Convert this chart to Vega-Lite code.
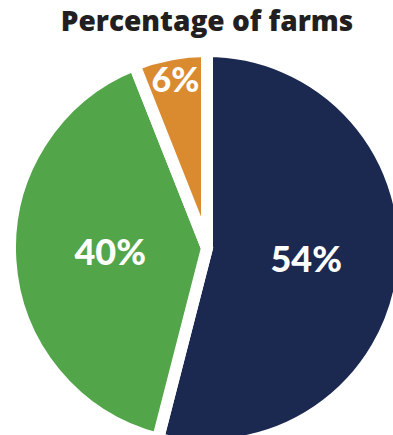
{
  "$schema": "https://vega.github.io/schema/vega-lite/v6.json",
  "width": 380,
  "height": 380,
  "autosize": "none",
  "padding": {"left": 17, "top": 58, "right": 0, "bottom": 0},
  "background": "white",
  "view": {"stroke": null},
  "title": {
    "text": "Percentage of farms",
    "font": "Open Sans",
    "fontSize": 28,
    "fontWeight": 800,
    "color": "#231f20",
    "anchor": "middle",
    "frame": "group",
    "offset": -10
  },
  "data": {
    "values": [
      {"group": "Navy", "value": 54, "label": "54%", "rank": 1},
      {"group": "Green", "value": 40, "label": "40%", "rank": 2},
      {"group": "Orange", "value": 6, "label": "6%", "rank": 3}
    ]
  },
  "encoding": {
    "theta": {"field": "value", "type": "quantitative", "stack": true},
    "order": {"field": "rank", "type": "quantitative"}
  },
  "layer": [
    {
      "mark": {"type": "arc", "outerRadius": 197, "stroke": "white", "strokeWidth": 12, "strokeJoin": "miter"},
      "encoding": {
        "color": {
          "field": "group",
          "type": "nominal",
          "scale": {"domain": ["Navy", "Green", "Orange"], "range": ["#1b2951", "#52a548", "#da8b2f"]},
          "legend": null
        }
      }
    },
    {
      "mark": {"type": "text", "radius": 100, "font": "Lato", "fontWeight": 900, "fontSize": 36, "color": "white"},
      "encoding": {"text": {"condition": {"test": "datum.rank == 1", "field": "label"}, "value": ""}}
    },
    {
      "mark": {"type": "text", "radius": 97, "font": "Lato", "fontWeight": 900, "fontSize": 36, "color": "white"},
      "encoding": {"text": {"condition": {"test": "datum.rank == 2", "field": "label"}, "value": ""}}
    },
    {
      "mark": {"type": "text", "radius": 169, "font": "Lato", "fontWeight": 900, "fontSize": 34, "color": "white"},
      "encoding": {"text": {"condition": {"test": "datum.rank == 3", "field": "label"}, "value": ""}}
    }
  ]
}
